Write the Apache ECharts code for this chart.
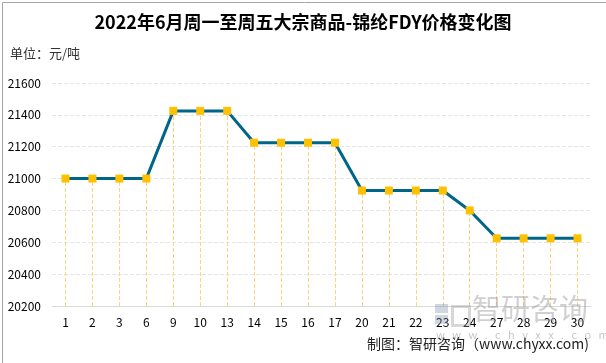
<!DOCTYPE html>
<html><head><meta charset="utf-8">
<script src="https://cdn.jsdelivr.net/npm/echarts@6/dist/echarts.min.js"></script>
<style>html,body{margin:0;padding:0;background:#fff}#c{width:606px;height:363px}</style>
</head><body><div id="c"></div>
<script>
var categories = ['1','2','3','6','9','10','13','14','15','16','17','20','21','22','23','24','27','28','29','30'];
var prices = [21000,21000,21000,21000,21425,21425,21425,21225,21225,21225,21225,20925,20925,20925,20925,20800,20625,20625,20625,20625];
var yTicks = [20200,20400,20600,20800,21000,21200,21400,21600];
var FONT = '"Noto Sans CJK SC","Microsoft YaHei",sans-serif';

var chart = echarts.init(document.getElementById('c'), null, {renderer:'canvas'});
var yMin = yTicks[0], yMax = yTicks[yTicks.length-1], yInt = yTicks[1]-yTicks[0];
var dropLines = prices.map(function(v,i){ return [{coord:[i, yMin]},{coord:[i, v]}]; });
var wm = 'rgba(150,150,150,0.45)';

chart.setOption({
  backgroundColor:'#fff',
  animation:false,
  textStyle:{fontFamily:FONT},
  title:{text:'2022年6月周一至周五大宗商品-锦纶FDY价格变化图', left:'center', top:8,
    textStyle:{fontSize:18, fontWeight:'bold', color:'#000', fontFamily:FONT}},
  graphic:[
    {type:'rect', left:0, top:0, shape:{width:605, height:362}, style:{fill:'none', stroke:'#a6a6a6', lineWidth:1}, silent:true, z:100},
    {type:'text', left:10, top:47, style:{text:'单位：元/吨', fontSize:13, fill:'#333', fontFamily:FONT}},
    {type:'rect', left:435, top:304, z:50, shape:{width:13,height:9}, style:{fill:'rgba(120,140,170,0.35)'}},
    {type:'rect', left:435, top:315, z:50, shape:{width:13,height:9}, style:{fill:'rgba(120,140,170,0.35)'}},
    {type:'rect', left:450, top:304, z:50, shape:{width:17,height:19}, style:{fill:'none', stroke:'rgba(140,140,140,0.35)', lineWidth:3}},
    {type:'text', left:472, top:294, z:50, style:{text:'智研咨询', fontSize:29, fill:wm, fontFamily:FONT}},
    {type:'text', left:436, top:329, z:50, style:{text:'w   w   w   .   c   h   y   x   x   .   c   o   m', fontSize:11, fill:'#c8c8c8', fontFamily:FONT}},
    {type:'text', right:17, top:337, z:60, style:{text:'制图：智研咨询（www.chyxx.com)', fontSize:14, fill:'#222', fontFamily:FONT}}
  ],
  grid:{left:52, right:15, top:83, bottom:57},
  xAxis:{type:'category', data:categories, boundaryGap:true,
    axisLine:{lineStyle:{color:'#d9d9d9', width:1}}, axisTick:{show:false},
    axisLabel:{color:'#000', fontSize:12, margin:10, fontFamily:FONT}},
  yAxis:{type:'value', min:yMin, max:yMax, interval:yInt,
    axisLine:{show:false}, axisTick:{show:false},
    axisLabel:{color:'#000', fontSize:12, margin:11, fontFamily:FONT, formatter:function(v){return String(v);}},
    splitLine:{lineStyle:{color:'#e6e6e6', type:'dashed', width:1}}},
  series:[{
    type:'line', data:prices, symbol:'rect', symbolSize:8,
    lineStyle:{color:'#006586', width:3},
    itemStyle:{color:'#FFC000'},
    z:5,
    markLine:{silent:true, symbol:['none','none'], label:{show:false},
      lineStyle:{color:'#FFD27F', type:'dashed', width:1},
      data:dropLines, z:1}
  }]
});
</script></body></html>
